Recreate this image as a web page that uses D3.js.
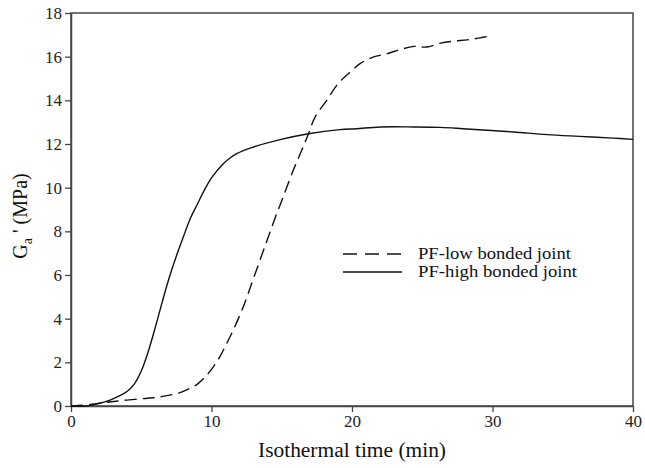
<!DOCTYPE html>
<html><head><meta charset="utf-8">
<script src="https://cdn.jsdelivr.net/npm/d3@7"></script>
<style>body{margin:0;background:#fff}svg{display:block}text{font-family:'Liberation Serif','Times New Roman',serif}</style>
</head><body>
<svg id="c" width="645" height="468"></svg>
<script>
const xTicks=[0,10,20,30,40];
const yTicks=[0,2,4,6,8,10,12,14,16,18];
const seriesNames=["PF-low bonded joint","PF-high bonded joint"];
// PF-low (dashed)
const lowX=[0,0.5,1.5,2.3,3.2,3.96,5,5.86,6.6,7.28,7.9,8.47,9.0,9.5,10.0,10.5,10.96,11.55,12.26,12.86,13.45,14.04,14.64,15.1,15.82,16.42,16.9,17.37,18.2,19.0,19.86,20.57,21.5,22.47,23.4,24.4,25.3,26.3,27.2,28.2,29.0,30.0];
const lowY=[0,0.02,0.08,0.15,0.22,0.27,0.33,0.38,0.45,0.53,0.65,0.81,1.0,1.3,1.68,2.15,2.71,3.48,4.54,5.61,6.68,7.74,8.81,9.57,10.8,11.71,12.47,13.23,14.0,14.76,15.29,15.68,15.98,16.13,16.32,16.47,16.44,16.62,16.71,16.77,16.85,16.97];
// PF-high (solid)
const highX=[0,1.1,1.83,2.78,3.4,3.96,4.5,5.0,5.5,6.0,6.5,7.0,7.5,8.0,8.5,9.0,9.5,10.0,10.84,11.3,11.79,12.97,14.88,16.9,19.15,20.3,22.0,24.4,26.3,27.9,29.6,31.5,33.9,36.2,38.6,40];
const highY=[0,0.0,0.09,0.27,0.45,0.65,1.0,1.6,2.5,3.6,4.78,5.9,6.87,7.75,8.6,9.25,9.9,10.45,11.1,11.35,11.56,11.86,12.2,12.47,12.66,12.7,12.78,12.78,12.76,12.7,12.63,12.55,12.43,12.35,12.27,12.21];

const svg=d3.select("#c");
const x=d3.scaleLinear().domain([0,40]).range([71,633]);
const y=d3.scaleLinear().domain([0,18]).range([406,13]);
const font="'Liberation Serif','Times New Roman',serif";
const axisColor="#444";

// frame
svg.append("rect").attr("x",x(0)).attr("y",y(18)).attr("width",x(40)-x(0)).attr("height",y(0)-y(18))
  .attr("fill","none").attr("stroke",axisColor).attr("stroke-width",1.5);

const xa=svg.append("g").attr("transform",`translate(0,${y(0)})`)
  .call(d3.axisBottom(x).tickValues(xTicks).tickSize(6).tickPadding(3).tickSizeOuter(0));
const ya=svg.append("g").attr("transform",`translate(${x(0)},0)`)
  .call(d3.axisLeft(y).tickValues(yTicks).tickSize(6).tickPadding(3).tickSizeOuter(0));
[xa,ya].forEach(g=>{
  g.attr("font-family",font);
  g.select(".domain").attr("stroke",axisColor).attr("stroke-width",1.5);
  g.selectAll(".tick line").attr("stroke",axisColor).attr("stroke-width",1.3);
  g.selectAll(".tick text").style("font-family",font).attr("font-size",17).attr("fill","#222");
});

const line=d3.line().x(d=>x(d[0])).y(d=>y(d[1])).curve(d3.curveCatmullRom.alpha(0.5));
const lowData=lowX.map((v,i)=>[v,lowY[i]]);
const highData=highX.map((v,i)=>[v,highY[i]]);
svg.append("path").datum(highData).attr("d",line).attr("fill","none").attr("stroke","#111").attr("stroke-width",1.4);
svg.append("path").datum(lowData).attr("d",line).attr("fill","none").attr("stroke","#111").attr("stroke-width",1.4).attr("stroke-dasharray","12,6");

// legend
const leg=[{n:seriesNames[0],dash:"14,8",yy:254,w:153},{n:seriesNames[1],dash:null,yy:272,w:159}];
leg.forEach(l=>{
  const ln=svg.append("line").attr("x1",343).attr("x2",402).attr("y1",l.yy).attr("y2",l.yy)
    .attr("stroke","#111").attr("stroke-width",1.4);
  if(l.dash) ln.attr("stroke-dasharray",l.dash);
  svg.append("text").attr("x",418).attr("y",l.yy+4.5).attr("font-family",font).attr("font-size",16.5)
    .attr("textLength",l.w).attr("lengthAdjust","spacingAndGlyphs").attr("fill","#111").text(l.n);
});

// axis titles
svg.append("text").attr("x",258).attr("y",457).attr("font-family",font)
  .attr("font-size",20).attr("textLength",188).attr("lengthAdjust","spacingAndGlyphs").attr("fill","#111").text("Isothermal time  (min)");
const yt=svg.append("text").attr("transform","translate(27,216) rotate(-90)").attr("text-anchor","middle")
  .attr("font-family",font).attr("font-size",20).attr("fill","#111");
yt.append("tspan").text("G");
yt.append("tspan").attr("font-size",14).attr("dy",5).text("a");
yt.append("tspan").attr("dy",-5).text(" ' (MPa)");
</script>
</body></html>
